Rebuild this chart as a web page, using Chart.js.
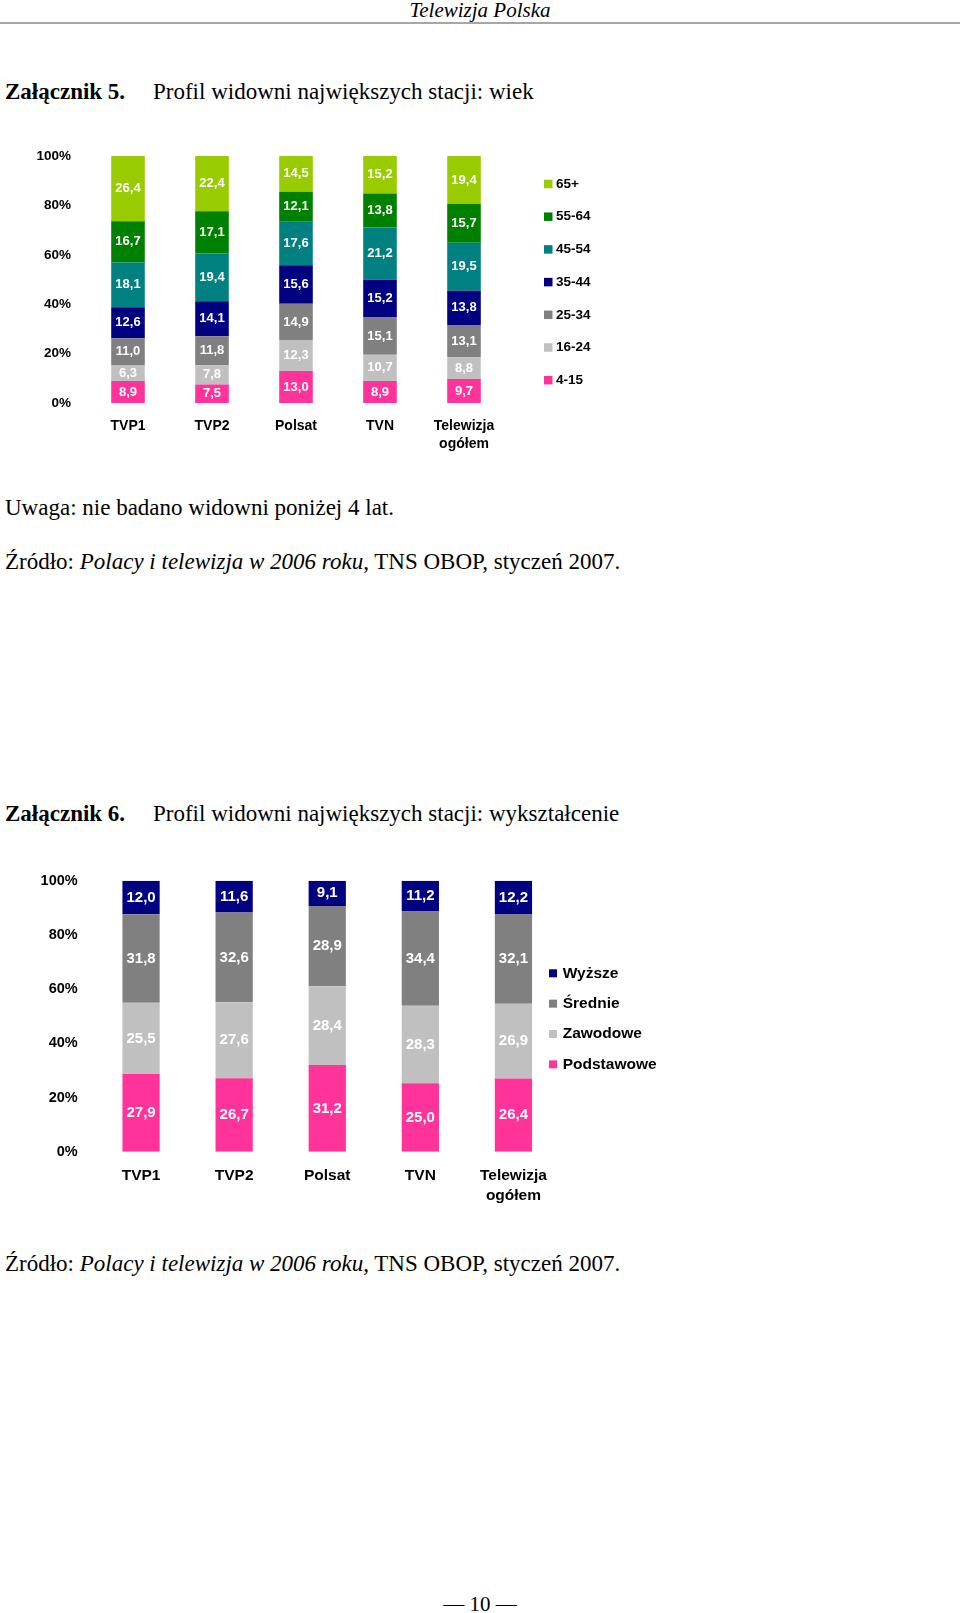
<!DOCTYPE html>
<html lang="pl">
<head>
<meta charset="utf-8">
<title>Profil widowni największych stacji</title>
<script src="https://cdn.jsdelivr.net/npm/chart.js@4.4.1/dist/chart.umd.min.js"></script>
<style>
  body {
    margin: 0;
    width: 960px;
    height: 1613px;
    position: relative;
    overflow: hidden;
    background: #fff;
    color: #000;
    font-family: 'Liberation Serif', 'Times New Roman', serif;
  }
  .t { position: absolute; white-space: nowrap; line-height: 1; font-size: 23px; }
  .head { left: 0; width: 960px; text-align: center; font-style: italic; font-size: 21px; top: 0; }
  .rule { position: absolute; left: 0; top: 22px; width: 960px; height: 2px; background: #a6a6a6; }
  .foot { left: 0; width: 960px; text-align: center; font-size: 21px; top: 1594px; }
  canvas { position: absolute; left: 0; }
</style>
</head>
<body>
  <div class="t head">Telewizja Polska</div>
  <div class="rule"></div>

  <div class="t" style="left:5px; top:80px"><b>Załącznik 5.</b></div>
  <div class="t" style="left:153px; top:80px">Profil widowni największych stacji: wiek</div>
  <canvas id="ageChart" width="700" height="328" style="top:132px"></canvas>
  <div class="t" style="left:5px; top:496px">Uwaga: nie badano widowni poniżej 4 lat.</div>
  <div class="t" style="left:5px; top:550px">Źródło: <i>Polacy i telewizja w 2006 roku</i>, TNS OBOP, styczeń 2007.</div>

  <div class="t" style="left:5px; top:802px"><b>Załącznik 6.</b></div>
  <div class="t" style="left:153px; top:802px">Profil widowni największych stacji: wykształcenie</div>
  <canvas id="eduChart" width="700" height="370" style="top:850px"></canvas>
  <div class="t" style="left:5px; top:1252px">Źródło: <i>Polacy i telewizja w 2006 roku</i>, TNS OBOP, styczeń 2007.</div>

  <div class="t foot">— 10 —</div>

<script>
const stations = ['TVP1', 'TVP2', 'Polsat', 'TVN', ['Telewizja', 'ogółem']]
const yTicks = [0, 20, 40, 60, 80, 100]

// Załącznik 5 - wiek (od dołu słupka)
const ageGroups = ['4-15', '16-24', '25-34', '35-44', '45-54', '55-64', '65+']
const age4to15 = [8.9, 7.5, 13.0, 8.9, 9.7]
const age16to24 = [6.3, 7.8, 12.3, 10.7, 8.8]
const age25to34 = [11.0, 11.8, 14.9, 15.1, 13.1]
const age35to44 = [12.6, 14.1, 15.6, 15.2, 13.8]
const age45to54 = [18.1, 19.4, 17.6, 21.2, 19.5]
const age55to64 = [16.7, 17.1, 12.1, 13.8, 15.7]
const age65plus = [26.4, 22.4, 14.5, 15.2, 19.4]

// Załącznik 6 - wykształcenie
const eduGroups = ['Podstawowe', 'Zawodowe', 'Średnie', 'Wyższe']
const eduBasic = [27.9, 26.7, 31.2, 25.0, 26.4]
const eduVocational = [25.5, 27.6, 28.4, 28.3, 26.9]
const eduSecondary = [31.8, 32.6, 28.9, 34.4, 32.1]
const eduHigher = [12.0, 11.6, 9.1, 11.2, 12.2]

const FONT = "'Liberation Sans', Arial, Helvetica, sans-serif"
Chart.defaults.font.family = FONT
Chart.defaults.color = '#000'

// excel robi 100% skumulowane, wiec przeliczamy na udzialy
function shares (series) {
  const totals = series[0].map((_, i) => series.reduce((sum, row) => sum + row[i], 0))
  return series.map(row => row.map((v, i) => v / totals[i] * 100))
}

const segmentLabels = {
  id: 'segmentLabels',
  afterDatasetsDraw (chart, args, opts) {
    const { ctx } = chart
    ctx.save()
    ctx.font = `bold ${opts.size}px ${FONT}`
    ctx.fillStyle = '#fff'
    ctx.textAlign = 'center'
    ctx.textBaseline = 'middle'
    chart.data.datasets.forEach((ds, di) => {
      chart.getDatasetMeta(di).data.forEach((bar, i) => {
        const text = ds.raw[i].toFixed(1).replace('.', ',')
        ctx.fillText(text, bar.x, (bar.y + bar.base) / 2)
      })
    })
    ctx.restore()
  }
}

const sideLegend = {
  id: 'sideLegend',
  afterDraw (chart, args, opts) {
    const { ctx } = chart
    const items = chart.data.datasets.slice().reverse()
    ctx.save()
    ctx.font = `bold ${opts.size}px ${FONT}`
    ctx.textAlign = 'left'
    ctx.textBaseline = 'middle'
    items.forEach((ds, k) => {
      const y = opts.top + k * opts.gap
      ctx.fillStyle = ds.backgroundColor
      ctx.fillRect(opts.left, y - opts.box / 2, opts.box, opts.box)
      ctx.fillStyle = '#000'
      ctx.fillText(ds.label, opts.left + opts.box + opts.space, y)
    })
    ctx.restore()
  }
}

function stackedChart (id, names, series, colors, cfg) {
  const pct = shares(series)
  const datasets = names.map((name, i) => ({
    label: name,
    data: pct[i],
    raw: series[i],
    backgroundColor: colors[i],
    borderWidth: 0
  }))
  return new Chart(document.getElementById(id), {
    type: 'bar',
    data: { labels: stations, datasets },
    plugins: [segmentLabels, sideLegend],
    options: {
      responsive: false,
      animation: false,
      layout: { padding: { top: cfg.top, right: cfg.right, bottom: 0, left: 0 } },
      datasets: { bar: { barPercentage: 0.4, categoryPercentage: 1 } },
      plugins: {
        legend: { display: false },
        tooltip: { enabled: false },
        segmentLabels: { size: cfg.valueSize },
        sideLegend: cfg.legend
      },
      scales: {
        x: {
          stacked: true,
          grid: { display: false, drawTicks: false },
          border: { display: false },
          ticks: {
            autoSkip: false,
            maxRotation: 0,
            padding: cfg.xPad,
            font: { size: cfg.xSize, weight: 'bold', lineHeight: cfg.xLine }
          },
          afterFit: s => { s.height = cfg.xHeight }
        },
        y: {
          stacked: true,
          min: 0,
          max: 100,
          grid: { display: false, drawTicks: false },
          border: { display: false },
          afterBuildTicks: s => { s.ticks = yTicks.map(v => ({ value: v })) },
          ticks: {
            padding: cfg.yPad,
            font: { size: cfg.ySize, weight: 'bold' },
            callback: v => v + '%'
          },
          afterFit: s => { s.width = cfg.left }
        }
      }
    }
  })
}

stackedChart(
  'ageChart',
  ageGroups,
  [age4to15, age16to24, age25to34, age35to44, age45to54, age55to64, age65plus],
  ['#FF3399', '#C0C0C0', '#808080', '#000080', '#008080', '#008000', '#99CC00'],
  {
    top: 24, left: 86, right: 194,
    xHeight: 57, xPad: 14, xSize: 14, xLine: 1.29,
    ySize: 13.5, yPad: 15, valueSize: 13,
    legend: { left: 544, top: 52, gap: 32.7, box: 8.5, space: 3.5, size: 13.5 }
  }
)

stackedChart(
  'eduChart',
  eduGroups,
  [eduBasic, eduVocational, eduSecondary, eduHigher],
  ['#FF3399', '#C0C0C0', '#808080', '#000080'],
  {
    top: 30.7, left: 94.5, right: 140,
    xHeight: 68.3, xPad: 13.75, xSize: 15.5, xLine: 1.32,
    ySize: 14.5, yPad: 16.8, valueSize: 15,
    legend: { left: 549, top: 123.3, gap: 30.35, box: 8, space: 5.7, size: 15.5 }
  }
)
</script>
</body>
</html>
